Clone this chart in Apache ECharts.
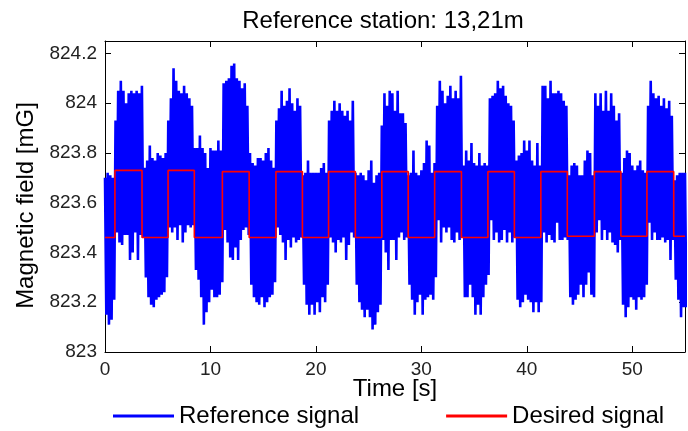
<!DOCTYPE html>
<html><head><meta charset="utf-8">
<script src="https://cdn.jsdelivr.net/npm/echarts@6/dist/echarts.min.js"></script>
<style>html,body{margin:0;padding:0;background:#fff}#c{width:688px;height:431px}</style>
</head><body><div id="c"></div>
<script>
// ---- data ----
const TITLE = 'Reference station: 13,21m';
const X_NAME = 'Time [s]';
const Y_NAME = 'Magnetic field [mG]';
const SERIES_NAMES = ['Reference signal', 'Desired signal'];
const X_MIN = 0, X_MAX = 55, X_STEP = 10;
const Y_MIN = 823, Y_MAX = 824.25, Y_STEP = 0.2;
const xTickLabels = ['0', '10', '20', '30', '40', '50'];
const yTickLabels = ['823', '823.2', '823.4', '823.6', '823.8', '824', '824.2'];

// reference signal: local maxima / minima of the fast oscillation, one pair every 0.25 s
const SAMPLE_STEP = 0.25;
const peakHigh = [
  823.70, 823.72, 823.71, 823.70,
  823.93, 824.05, 824.09, 824.05, 824.00, 824.04, 824.05, 824.04, 824.05, 824.04, 824.07,
  823.74, 823.77, 823.83, 823.78, 823.77, 823.80, 823.79, 823.78, 823.80,
  823.93, 824.02, 824.14, 824.09, 824.05, 824.04, 824.07, 824.04, 824.02, 823.99,
  823.82, 823.82, 823.87, 823.82, 823.80, 823.74, 823.82, 823.81, 823.81, 823.85, 823.81,
  824.08, 824.09, 824.10, 824.15, 824.16, 824.10, 824.09, 824.06, 824.08, 823.99,
  823.80, 823.76, 823.75, 823.78, 823.78, 823.77, 823.80, 823.82, 823.77, 823.74,
  823.93, 823.98, 824.05, 823.99, 824.01, 824.06, 824.00, 823.97, 824.02, 823.99,
  823.71, 823.72, 823.77, 823.72, 823.72, 823.72, 823.72, 823.74, 823.76, 823.72,
  823.93, 823.97, 824.01, 823.97, 824.00, 823.97, 823.95, 823.97, 823.93, 824.01,
  823.72, 823.71, 823.72, 823.71, 823.69, 823.73, 823.77, 823.68, 823.71, 823.72,
  823.91, 824.04, 823.99, 824.05, 824.04, 823.97, 824.05, 823.96, 823.96, 823.92,
  823.71, 823.72, 823.81, 823.72, 823.71, 823.73, 823.76, 823.85, 823.83, 823.72, 823.76,
  823.99, 824.09, 824.05, 824.00, 824.03, 824.07, 824.02, 824.05, 824.02, 824.11,
  823.75, 823.81, 823.77, 823.84, 823.76, 823.75, 823.80, 823.75, 823.76, 823.75,
  824.02, 824.03, 824.04, 824.09, 824.06, 824.07, 824.03, 824.00, 823.99, 823.93,
  823.77, 823.79, 823.80, 823.85, 823.81, 823.85, 823.77, 823.75, 823.84, 823.75,
  824.07, 824.07, 824.02, 824.09, 824.04, 824.04, 824.05, 824.04, 824.01, 823.99,
  823.71, 823.75, 823.76, 823.75, 823.71, 823.71, 823.77, 823.81, 823.80, 823.71,
  824.04, 823.99, 824.04, 823.97, 824.05, 823.97, 824.04, 823.99, 823.93, 823.96,
  823.72, 823.78, 823.81, 823.80, 823.75, 823.73, 823.75, 823.77, 823.73, 823.72,
  823.99, 824.09, 824.04, 824.02, 824.03, 823.99, 824.02, 823.98, 824.01, 823.95,
  823.69, 823.71, 823.72, 823.72, 823.72
];
const peakLow = [
  823.15, 823.11, 823.13, 823.21,
  823.48, 823.44, 823.43, 823.47, 823.47, 823.37, 823.40, 823.48, 823.37, 823.47, 823.46,
  823.30, 823.22, 823.19, 823.18, 823.21, 823.22, 823.23, 823.24, 823.30,
  823.50, 823.48, 823.50, 823.45, 823.51, 823.44, 823.48, 823.51, 823.50, 823.51,
  823.33, 823.29, 823.22, 823.11, 823.16, 823.20, 823.25, 823.22, 823.22, 823.23, 823.28,
  823.49, 823.44, 823.38, 823.37, 823.42, 823.37, 823.45, 823.49, 823.50, 823.47,
  823.27, 823.22, 823.20, 823.19, 823.22, 823.18, 823.20, 823.22, 823.23, 823.28,
  823.50, 823.47, 823.44, 823.37, 823.45, 823.42, 823.46, 823.44, 823.45, 823.46,
  823.27, 823.19, 823.15, 823.19, 823.15, 823.20, 823.16, 823.22, 823.20, 823.27,
  823.46, 823.44, 823.40, 823.45, 823.44, 823.46, 823.37, 823.43, 823.48, 823.46,
  823.27, 823.20, 823.17, 823.14, 823.17, 823.14, 823.09, 823.11, 823.16, 823.19,
  823.45, 823.40, 823.33, 823.45, 823.45, 823.37, 823.46, 823.48, 823.45, 823.46,
  823.27, 823.21, 823.15, 823.20, 823.23, 823.15, 823.21, 823.22, 823.23, 823.21, 823.30,
  823.53, 823.44, 823.50, 823.48, 823.50, 823.45, 823.44, 823.48, 823.45, 823.46,
  823.22, 823.22, 823.27, 823.22, 823.15, 823.19, 823.15, 823.22, 823.27, 823.31,
  823.53, 823.45, 823.48, 823.44, 823.45, 823.49, 823.44, 823.48, 823.44, 823.46,
  823.21, 823.18, 823.20, 823.23, 823.21, 823.20, 823.16, 823.20, 823.16, 823.20,
  823.48, 823.44, 823.47, 823.45, 823.44, 823.52, 823.45, 823.45, 823.46, 823.45,
  823.22, 823.19, 823.21, 823.23, 823.27, 823.22, 823.27, 823.32, 823.23, 823.22,
  823.48, 823.53, 823.45, 823.49, 823.45, 823.48, 823.44, 823.43, 823.40, 823.45,
  823.19, 823.14, 823.18, 823.22, 823.21, 823.17, 823.22, 823.21, 823.22, 823.27,
  823.52, 823.45, 823.48, 823.45, 823.45, 823.46, 823.44, 823.45, 823.37, 823.45,
  823.29, 823.21, 823.14, 823.18, 823.18
];

// desired signal: switching times [s] and the level held from each time on
const desiredTimes = [0, 0.94, 3.51, 5.98, 8.47, 11.13, 13.67, 16.21, 18.72, 21.2, 23.74,
  26.25, 28.75, 31.26, 33.8, 36.31, 38.82, 41.33, 43.84, 46.41, 48.92, 51.39, 53.93];
const desiredLevels = [823.46, 823.73, 823.46, 823.73, 823.46, 823.725, 823.46, 823.725, 823.46,
  823.725, 823.46, 823.725, 823.46, 823.725, 823.46, 823.725, 823.46, 823.725, 823.465, 823.725,
  823.465, 823.725, 823.465];

// ---- build chart ----
const refData = [];
peakHigh.forEach((v, i) => {
  const t = i * SAMPLE_STEP;
  refData.push([t, v]);
  refData.push([t + SAMPLE_STEP / 2, peakLow[i]]);
});
const desData = desiredTimes.map((t, i) => [t, desiredLevels[i]]);
desData.push([X_MAX, desiredLevels[desiredLevels.length - 1]]);

const FONT = "'Liberation Sans', Arial, Helvetica, sans-serif";
const AX = '#000';
const LBL = '#222';

function fmt(list) {
  return function (v) {
    const s = String(+v.toFixed(4));
    return list.indexOf(s) >= 0 ? s : '';
  };
}
function baseAxis(extra) {
  return Object.assign({
    type: 'value',
    axisLine: { show: true, onZero: false, lineStyle: { color: AX, width: 1 } },
    axisTick: { show: true, inside: true, length: 6, lineStyle: { color: AX, width: 1 } },
    splitLine: { show: false }
  }, extra);
}

const chart = echarts.init(document.getElementById('c'), null, { renderer: 'canvas' });
chart.setOption({
  animation: false,
  backgroundColor: '#fff',
  title: {
    text: TITLE, left: 383, top: 9, textAlign: 'center', padding: 0,
    textStyle: { fontSize: 24, fontWeight: 'normal', color: '#000', fontFamily: FONT }
  },
  legend: {
    data: SERIES_NAMES, left: 113, top: 404, itemWidth: 61, itemHeight: 3, itemGap: 87,
    icon: 'rect', padding: 0,
    textStyle: { fontSize: 24, color: '#000', fontFamily: FONT }
  },
  grid: { left: 105, top: 41, width: 584, height: 311, containLabel: false },
  xAxis: [
    baseAxis({
      position: 'bottom', min: X_MIN, max: X_MAX, interval: X_STEP,
      name: X_NAME, nameLocation: 'middle', nameGap: 25, nameMoveOverlap: false,
      nameTextStyle: { fontSize: 24, color: '#000', fontFamily: FONT },
      axisLabel: { fontSize: 19, color: LBL, margin: 8, fontFamily: FONT, formatter: fmt(xTickLabels) }
    }),
    baseAxis({
      position: 'top', min: X_MIN, max: X_MAX, interval: X_STEP,
      axisLabel: { show: false }
    })
  ],
  yAxis: [
    baseAxis({
      position: 'left', min: Y_MIN, max: Y_MAX, interval: Y_STEP,
      name: Y_NAME, nameLocation: 'middle', nameGap: 67, nameMoveOverlap: false,
      nameTextStyle: { fontSize: 24, color: '#000', fontFamily: FONT, padding: [0, 18, 0, 0] },
      axisLabel: { fontSize: 19, color: LBL, margin: 8, fontFamily: FONT, formatter: fmt(yTickLabels) }
    }),
    baseAxis({
      position: 'right', min: Y_MIN, max: Y_MAX, interval: Y_STEP,
      axisLabel: { show: false }
    })
  ],
  series: [
    {
      name: SERIES_NAMES[0], type: 'line', data: refData, showSymbol: false, symbol: 'none',
      sampling: null, lineStyle: { color: '#0000ff', width: 2.6, join: 'bevel' }, itemStyle: { color: '#0000ff' },
      clip: true, z: 2
    },
    {
      name: SERIES_NAMES[1], type: 'line', step: 'end', data: desData, showSymbol: false, symbol: 'none',
      lineStyle: { color: '#ff0000', width: 1.6 }, itemStyle: { color: '#ff0000' },
      clip: true, z: 3
    }
  ]
});
</script></body></html>
